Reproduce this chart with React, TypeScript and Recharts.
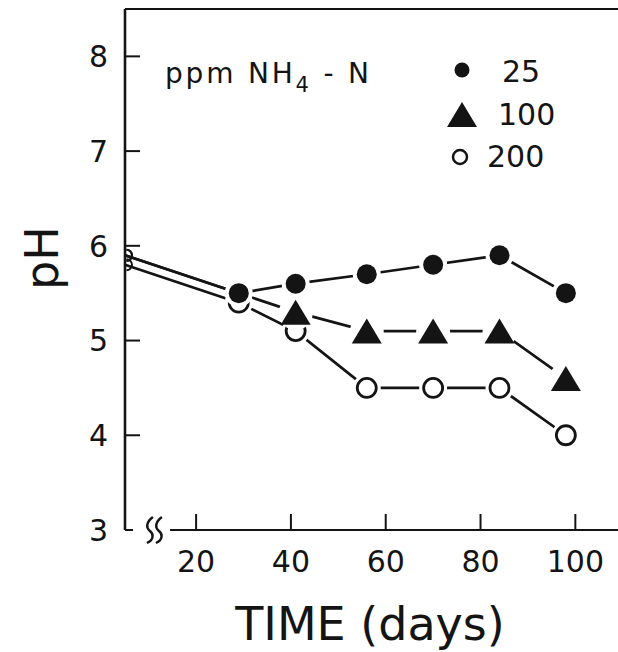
import { LineChart, Line, XAxis, YAxis, ReferenceLine, ReferenceDot, Legend } from 'recharts'

const days = [0, 29, 41, 56, 70, 84, 98]
const ph25 = [5.9, 5.5, 5.6, 5.7, 5.8, 5.9, 5.5]
const ph100 = [5.9, 5.5, 5.3, 5.1, 5.1, 5.1, 4.6]
const ph200 = [5.8, 5.4, 5.1, 4.5, 4.5, 4.5, 4.0]
const doses = ['25', '100', '200']
const timeTicks = [20, 40, 60, 80, 100]
const phTicks = [3, 4, 5, 6, 7, 8]

const BREAK_AT = 5 // day 0 is drawn on the broken axis
const INK = '#141414'
const FONT = '"DejaVu Sans", Verdana, sans-serif'

const data = days.map((d, i) => ({
  t: d === 0 ? BREAK_AT : d,
  p25: ph25[i],
  p100: ph100[i],
  p200: ph200[i],
}))

// 100 ppm coincides with 25 ppm at some dates, only one symbol is printed there
const hidden100 = (i: number) => i > 0 && ph100[i] === ph25[i]

type DotProps = { cx?: number; cy?: number; index?: number }

const startArc = (cx: number, cy: number, k: string) => (
  <path
    key={k}
    d={`M${cx + 1.5},${cy - 5.5} A5.5,5.5 0 0 1 ${cx + 1.5},${cy + 5.5}`}
    fill="none"
    stroke={INK}
    strokeWidth={2}
  />
)

// each symbol sits on a white patch so the joining lines stop short of it
const filledDot = (p: DotProps) => {
  const { cx, cy, index = 0 } = p
  const k = `f${index}`
  if (cx == null || cy == null) return <g key={k} />
  if (index === 0) return startArc(cx, cy, k)
  return (
    <g key={k}>
      <circle cx={cx} cy={cy} r={14} fill="#fff" />
      <circle cx={cx} cy={cy} r={10} fill={INK} />
    </g>
  )
}

const triangleDot = (p: DotProps) => {
  const { cx, cy, index = 0 } = p
  const k = `t${index}`
  if (cx == null || cy == null || hidden100(index)) return <g key={k} />
  if (index === 0) return startArc(cx, cy, k)
  return (
    <g key={k}>
      <circle cx={cx} cy={cy + 1} r={17} fill="#fff" />
      <polygon
        points={`${cx},${cy - 12.5} ${cx - 15},${cy + 12.5} ${cx + 15},${cy + 12.5}`}
        fill={INK}
      />
    </g>
  )
}

const openDot = (p: DotProps) => {
  const { cx, cy, index = 0 } = p
  const k = `o${index}`
  if (cx == null || cy == null) return <g key={k} />
  if (index === 0) return startArc(cx, cy, k)
  return (
    <g key={k}>
      <circle cx={cx} cy={cy} r={14} fill="#fff" />
      <circle cx={cx} cy={cy} r={9.5} fill="#fff" stroke={INK} strokeWidth={2.8} />
    </g>
  )
}

const PhTick = ({ x, y, payload }: any) => {
  const axisX = x + 17
  return (
    <g>
      <text x={x} y={y} dy="0.36em" textAnchor="end" fontSize={30} fontFamily={FONT} fill={INK}>
        {payload.value}
      </text>
      <line
        x1={axisX}
        x2={axisX + (payload.value === 3 ? 8 : 15)}
        y1={y}
        y2={y}
        stroke={INK}
        strokeWidth={2}
      />
    </g>
  )
}

const BreakMark = ({ cx, cy }: any) => {
  const squiggle = (x: number) =>
    `M${x + 3},${cy - 13} C${x - 4},${cy - 8} ${x - 4},${cy - 2} ${x},${cy + 1} C${x + 4},${cy + 4} ${x + 4},${cy + 10} ${x - 3},${cy + 13}`
  return (
    <g fill="none" stroke={INK} strokeWidth={2.4}>
      <path d={squiggle(cx - 4)} />
      <path d={squiggle(cx + 5)} />
    </g>
  )
}

const LegendBox = () => (
  <svg width={618} height={200} style={{ display: 'block' }}>
    <g fontFamily={FONT} fill={INK}>
      <text x={165} y={83} fontSize={28} letterSpacing={2.8}>
        ppm NH<tspan fontSize={21} dy={9}>4</tspan>
        <tspan dy={-9}> - N</tspan>
      </text>
      <circle cx={462} cy={70} r={7.5} fill={INK} />
      <text x={502} y={82} fontSize={30}>{doses[0]}</text>
      <polygon points="462,102 447,127 477,127" fill={INK} />
      <text x={498} y={125} fontSize={30}>{doses[1]}</text>
      <circle cx={460} cy={157} r={7} fill="#fff" stroke={INK} strokeWidth={2.5} />
      <text x={487} y={167} fontSize={30}>{doses[2]}</text>
    </g>
  </svg>
)

const TimeTitle = ({ viewBox }: any) => (
  <text
    x={viewBox.x + 245}
    y={viewBox.y + 110}
    textAnchor="middle"
    fontSize={46}
    fontFamily={FONT}
    fill={INK}
  >
    TIME (days)
  </text>
)

const PhTitle = ({ viewBox }: any) => {
  const x = viewBox.x + 41
  const y = viewBox.y + 249
  return (
    <text
      x={x}
      y={y}
      dy="0.36em"
      transform={`rotate(-90 ${x} ${y})`}
      textAnchor="middle"
      fontSize={46}
      fontFamily={FONT}
      fill={INK}
    >
      pH
    </text>
  )
}

// drawn 200 first so the 25 ppm symbols end up on top where they overlap
const series = [
  { key: 'p200', dot: openDot },
  { key: 'p100', dot: triangleDot },
  { key: 'p25', dot: filledDot },
]

export default function App() {
  return (
    <div
      style={{
        position: 'absolute',
        left: 0,
        top: 0,
        width: 618,
        height: 652,
        overflow: 'hidden',
        background: '#fff',
      }}
    >
      <LineChart width={640} height={652} data={data} margin={{ top: 0, right: 0, bottom: 0, left: 0 }}>
        <XAxis
          xAxisId="top"
          orientation="top"
          dataKey="t"
          type="number"
          domain={[5, 109]}
          ticks={timeTicks}
          interval={0}
          height={9}
          tick={false}
          tickSize={-17}
          tickLine={{ stroke: INK, strokeWidth: 2 }}
          axisLine={{ stroke: INK, strokeWidth: 2 }}
        />
        <XAxis
          xAxisId="bottom"
          dataKey="t"
          type="number"
          domain={[5, 109]}
          ticks={timeTicks}
          interval={0}
          height={122}
          tickSize={-16}
          tickMargin={37}
          tick={{ fill: INK, fontSize: 30, fontFamily: FONT }}
          tickLine={{ stroke: INK, strokeWidth: 2 }}
          axisLine={false}
          label={<TimeTitle />}
        />
        <YAxis
          yAxisId="left"
          type="number"
          domain={[3, 8.5]}
          ticks={phTicks}
          interval={0}
          width={125}
          tickSize={0}
          tickMargin={17}
          tickLine={false}
          tick={<PhTick />}
          axisLine={{ stroke: INK, strokeWidth: 2.6 }}
          label={<PhTitle />}
        />
        <YAxis
          yAxisId="right"
          orientation="right"
          type="number"
          domain={[3, 8.5]}
          ticks={phTicks.slice(1)}
          interval={0}
          width={22}
          tick={false}
          tickSize={-15}
          tickLine={{ stroke: INK, strokeWidth: 2 }}
          axisLine={false}
        />
        <ReferenceLine
          xAxisId="bottom"
          yAxisId="left"
          segment={[
            { x: 14.5, y: 3 },
            { x: 109, y: 3 },
          ]}
          stroke={INK}
          strokeWidth={2.2}
          ifOverflow="visible"
        />
        <ReferenceDot
          xAxisId="bottom"
          yAxisId="left"
          x={11.1}
          y={3}
          r={0}
          ifOverflow="visible"
          shape={<BreakMark />}
        />

        {series.map((s) => (
          <Line
            key={s.key}
            xAxisId="bottom"
            yAxisId="left"
            type="linear"
            dataKey={s.key}
            stroke={INK}
            strokeWidth={2.7}
            dot={s.dot}
            activeDot={false}
            isAnimationActive={false}
          />
        ))}

        <Legend
          layout="horizontal"
          align="center"
          verticalAlign="middle"
          wrapperStyle={{ position: 'absolute', left: 0, top: 0, width: 618, height: 200, pointerEvents: 'none' }}
          content={<LegendBox />}
        />
      </LineChart>
    </div>
  )
}
